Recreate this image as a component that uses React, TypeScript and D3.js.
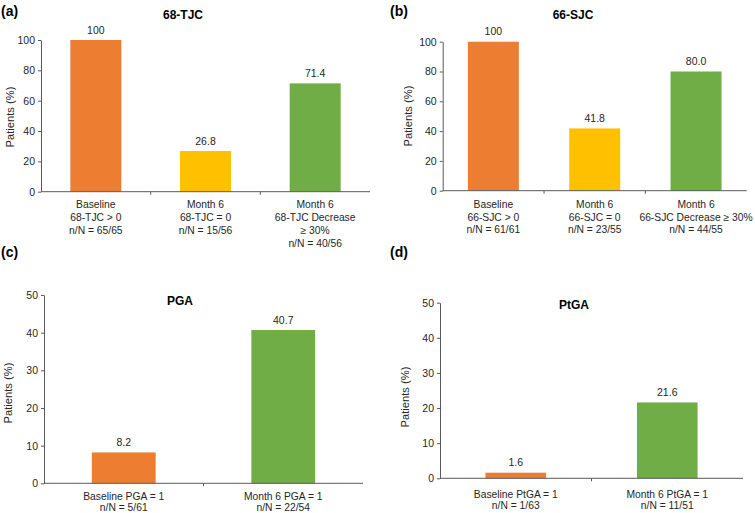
import React, {useEffect, useRef} from "react";
import * as d3 from "d3";

const W = 755;
const H = 513;

const COLORS = ["#ED7D31", "#FFC000", "#70AD47"];

const tjcCats = ["baseline", "m6zero", "m6dec"];
const tjcValues = [100, 26.8, 71.4];
const tjcLabels = [
  ["Baseline", "68-TJC > 0", "n/N = 65/65"],
  ["Month 6", "68-TJC = 0", "n/N = 15/56"],
  ["Month 6", "68-TJC Decrease", "\u2265 30%", "n/N = 40/56"],
];

const sjcCats = ["baseline", "m6zero", "m6dec"];
const sjcValues = [100, 41.8, 80.0];
const sjcLabels = [
  ["Baseline", "66-SJC > 0", "n/N = 61/61"],
  ["Month 6", "66-SJC = 0", "n/N = 23/55"],
  ["Month 6", "66-SJC Decrease \u2265 30%", "n/N = 44/55"],
];

const pgaCats = ["baseline", "m6"];
const pgaValues = [8.2, 40.7];
const pgaLabels = [
  ["Baseline PGA = 1", "n/N = 5/61"],
  ["Month 6 PGA = 1", "n/N = 22/54"],
];

const ptgaCats = ["baseline", "m6"];
const ptgaValues = [1.6, 21.6];
const ptgaLabels = [
  ["Baseline PtGA = 1", "n/N = 1/63"],
  ["Month 6 PtGA = 1", "n/N = 11/51"],
];

const ticks100 = [0, 20, 40, 60, 80, 100];
const ticks50 = [0, 10, 20, 30, 40, 50];

interface PanelSpec {
  tag: string;
  tagX: number;
  tagY: number;
  title: string;
  titleX: number;
  titleY: number;
  cats: string[];
  values: number[];
  labels: string[][];
  colors: string[];
  ticks: number[];
  fmt: (v: number) => string;
  left: number;
  right: number;
  top: number;
  bottom: number;
  padding: number;
  labelY: number;
  lineH: number;
  yLabX: number;
  yLabY: number;
}

const panels: PanelSpec[] = [
  {
    tag: "(a)", tagX: 1, tagY: 16, title: "68-TJC", titleX: 183, titleY: 19,
    cats: tjcCats, values: tjcValues, labels: tjcLabels, colors: COLORS,
    ticks: ticks100, fmt: (v) => (v === 100 ? "100" : d3.format(".1f")(v)),
    left: 41, right: 370, top: 40, bottom: 191.7, padding: 0.535,
    labelY: 208, lineH: 13, yLabX: 14, yLabY: 117,
  },
  {
    tag: "(b)", tagX: 390, tagY: 16, title: "66-SJC", titleX: 573, titleY: 19,
    cats: sjcCats, values: sjcValues, labels: sjcLabels, colors: COLORS,
    ticks: ticks100, fmt: (v) => (v === 100 ? "100" : d3.format(".1f")(v)),
    left: 442.7, right: 746.7, top: 41.7, bottom: 190.7, padding: 0.497,
    labelY: 208, lineH: 12.7, yLabX: 412, yLabY: 116,
  },
  {
    tag: "(c)", tagX: 1, tagY: 257, title: "PGA", titleX: 180, titleY: 305,
    cats: pgaCats, values: pgaValues, labels: pgaLabels, colors: [COLORS[0], COLORS[2]],
    ticks: ticks50, fmt: d3.format(".1f"),
    left: 44, right: 363, top: 295, bottom: 483.3, padding: 0.6,
    labelY: 499.5, lineH: 11.5, yLabX: 12, yLabY: 393,
  },
  {
    tag: "(d)", tagX: 390, tagY: 257, title: "PtGA", titleX: 574, titleY: 309,
    cats: ptgaCats, values: ptgaValues, labels: ptgaLabels, colors: [COLORS[0], COLORS[2]],
    ticks: ticks50, fmt: d3.format(".1f"),
    left: 440, right: 743, top: 302.7, bottom: 478.3, padding: 0.6,
    labelY: 498, lineH: 11.2, yLabX: 409, yLabY: 397,
  },
];

const FONT = "'Liberation Sans', Arial, sans-serif";
const AXIS = "#595959";
const TEXT = "#262626";

function drawPanel(svg: d3.Selection<SVGSVGElement, unknown, null, undefined>, p: PanelSpec) {
  const g = svg.append("g");
  const x = d3.scaleBand<string>().domain(p.cats).range([p.left, p.right]).paddingInner(p.padding).paddingOuter(p.padding / 2);
  const y = d3.scaleLinear().domain([0, d3.max(p.ticks) as number]).range([p.bottom, p.top]);

  // bars
  g.selectAll("rect.bar")
    .data(p.values)
    .join("rect")
    .attr("class", "bar")
    .attr("x", (_, i) => x(p.cats[i]) as number)
    .attr("width", x.bandwidth())
    .attr("y", (d) => y(d))
    .attr("height", (d) => y(0) - y(d))
    .attr("fill", (_, i) => p.colors[i]);

  // value labels
  g.selectAll("text.val")
    .data(p.values)
    .join("text")
    .attr("class", "val")
    .attr("x", (_, i) => (x(p.cats[i]) as number) + x.bandwidth() / 2)
    .attr("y", (d) => y(d) - 6.5)
    .attr("text-anchor", "middle")
    .attr("font-size", 10.5)
    .attr("fill", TEXT)
    .text((d) => p.fmt(d));

  // y axis
  const ya = g.append("g")
    .attr("transform", `translate(${p.left},0)`)
    .call(d3.axisLeft(y).tickValues(p.ticks).tickSize(3).tickPadding(3).tickSizeOuter(0));
  ya.select(".domain").attr("stroke", AXIS);
  ya.selectAll(".tick line").attr("stroke", AXIS);
  ya.selectAll(".tick text").attr("font-size", 10.5).attr("font-family", FONT).attr("fill", TEXT);

  // x axis with ticks between categories
  const step = x.step();
  const bounds = d3.range(1, p.cats.length).map((i) => p.left + (p.right - p.left - step * p.cats.length) / 2 + step * i);
  g.append("line")
    .attr("x1", p.left).attr("x2", p.right)
    .attr("y1", p.bottom).attr("y2", p.bottom)
    .attr("stroke", AXIS);
  g.selectAll("line.xt")
    .data(bounds)
    .join("line")
    .attr("class", "xt")
    .attr("x1", (d) => d).attr("x2", (d) => d)
    .attr("y1", p.bottom).attr("y2", p.bottom + 3)
    .attr("stroke", AXIS);

  // category labels
  p.labels.forEach((lines, i) => {
    const cx = (x(p.cats[i]) as number) + x.bandwidth() / 2;
    const t = g.append("text")
      .attr("text-anchor", "middle")
      .attr("font-size", 10.3)
      .attr("fill", TEXT);
    lines.forEach((ln, j) => {
      t.append("tspan").attr("x", cx).attr("y", p.labelY + j * p.lineH).text(ln);
    });
  });

  // y label
  g.append("text")
    .attr("transform", `translate(${p.yLabX},${p.yLabY}) rotate(-90)`)
    .attr("text-anchor", "middle")
    .attr("font-size", 11.2)
    .attr("fill", TEXT)
    .text("Patients (%)");

  // title
  g.append("text")
    .attr("x", p.titleX).attr("y", p.titleY)
    .attr("text-anchor", "middle")
    .attr("font-size", 12)
    .attr("font-weight", "bold")
    .attr("fill", "#000")
    .text(p.title);

  // panel tag
  g.append("text")
    .attr("x", p.tagX).attr("y", p.tagY)
    .attr("font-size", 14)
    .attr("font-weight", "bold")
    .attr("fill", "#000")
    .text(p.tag);
}

export default function App() {
  const ref = useRef<SVGSVGElement>(null);

  useEffect(() => {
    if (!ref.current) return;
    const svg = d3.select(ref.current);
    svg.selectAll("*").remove();
    panels.forEach((p) => drawPanel(svg, p));
  }, []);

  return (
    <svg
      ref={ref}
      width={W}
      height={H}
      viewBox={`0 0 ${W} ${H}`}
      style={{position: "absolute", left: 0, top: 0, background: "#fff", fontFamily: FONT}}
    />
  );
}
